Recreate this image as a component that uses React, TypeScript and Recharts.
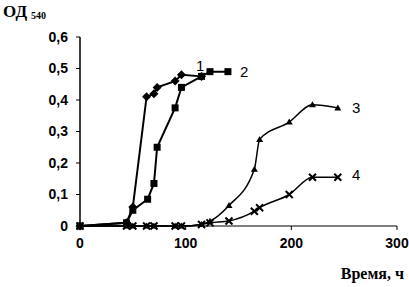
import { Line, LineChart, XAxis, YAxis } from "recharts"

// hours (x) and optical density (y) for each curve
const hours1 = [0, 44, 50, 63, 70, 73, 90, 96, 115]
const od1 = [0, 0.01, 0.06, 0.41, 0.42, 0.44, 0.46, 0.48, 0.475]

const hours2 = [0, 44, 50, 64, 70, 73, 90, 96, 115, 123, 140]
const od2 = [0, 0.01, 0.05, 0.085, 0.135, 0.25, 0.375, 0.44, 0.475, 0.49, 0.49]

const hours34 = [0, 44, 50, 63, 70, 90, 96, 115, 123, 141, 165, 170, 198, 220, 244]
const od3 = [0, 0, 0, 0, 0, 0, 0, 0.005, 0.015, 0.065, 0.18, 0.275, 0.33, 0.385, 0.375]
const od4 = [0, 0, 0, 0, 0, 0, 0, 0.005, 0.01, 0.016, 0.047, 0.058, 0.1, 0.155, 0.155]

const xTicks = [0, 100, 200, 300]
const yTicks = [0, 0.1, 0.2, 0.3, 0.4, 0.5, 0.6]

const toPoints = (xs: number[], ys: number[]) => xs.map((x, i) => ({ x, y: ys[i] }))

const series1 = toPoints(hours1, od1)
const series2 = toPoints(hours2, od2)
const series3 = toPoints(hours34, od3)
const series4 = toPoints(hours34, od4)

const tickFont = { fill: "#000", fontSize: 14, fontWeight: 700, fontFamily: "Liberation Sans, Arial, sans-serif" }

const Diamond = (props: any) => {
  const { cx, cy, index } = props
  const s = 4.5
  return <polygon key={index} points={`${cx},${cy - s} ${cx + s},${cy} ${cx},${cy + s} ${cx - s},${cy}`} fill="#000" />
}

const Square = (props: any) => {
  const { cx, cy, index } = props
  return <rect key={index} x={cx - 3.5} y={cy - 3.5} width={7} height={7} fill="#000" />
}

const Triangle = (props: any) => {
  const { cx, cy, index } = props
  return <polygon key={index} points={`${cx},${cy - 3.5} ${cx + 3.5},${cy + 2.5} ${cx - 3.5},${cy + 2.5}`} fill="#000" />
}

const Cross = (props: any) => {
  const { cx, cy, index } = props
  const s = 3.5
  return (
    <g key={index} stroke="#000" strokeWidth={2}>
      <line x1={cx - s} y1={cy - s} x2={cx + s} y2={cy + s} />
      <line x1={cx - s} y1={cy + s} x2={cx + s} y2={cy - s} />
    </g>
  )
}

export default function App() {
  return (
    <div style={{ position: "absolute", left: 0, top: 0, width: 409, height: 287, background: "#fff" }}>
      <LineChart width={409} height={287} margin={{ top: 37, right: 12, bottom: 31, left: 30 }}>
        <XAxis
          type="number"
          dataKey="x"
          domain={[0, 300]}
          ticks={xTicks}
          height={30}
          tick={tickFont}
          tickSize={4}
          tickMargin={8}
          axisLine={{ stroke: "#000", strokeWidth: 1 }}
          tickLine={{ stroke: "#000" }}
        />
        <YAxis
          type="number"
          dataKey="y"
          domain={[0, 0.6]}
          ticks={yTicks}
          width={50}
          tick={tickFont}
          tickSize={4}
          tickMargin={8}
          tickFormatter={(v: number) => (v === 0 ? "0" : v.toFixed(1).replace(".", ","))}
          axisLine={{ stroke: "#000", strokeWidth: 1.5 }}
          tickLine={{ stroke: "#000" }}
        />
        <Line data={series4} dataKey="y" type="monotone" stroke="#000" strokeWidth={1.5} dot={Cross} isAnimationActive={false} />
        <Line data={series3} dataKey="y" type="monotone" stroke="#000" strokeWidth={1.5} dot={Triangle} isAnimationActive={false} />
        <Line data={series2} dataKey="y" type="linear" stroke="#000" strokeWidth={2} dot={Square} isAnimationActive={false} />
        <Line data={series1} dataKey="y" type="linear" stroke="#000" strokeWidth={2} dot={Diamond} isAnimationActive={false} />
        <text x={3} y={17} fontFamily="Liberation Serif, Times New Roman, serif" fontWeight={700} fontSize={17} fill="#000">
          ОД
          <tspan dx={4} dy={2} fontSize={10}>540</tspan>
        </text>
        <text x={404} y={279} textAnchor="end" fontFamily="Liberation Serif, Times New Roman, serif" fontWeight={700} fontSize={16} fill="#000">
          Время, ч
        </text>
        <g fontFamily="Liberation Sans, Arial, sans-serif" fontSize={15} fill="#000">
          <text x={196} y={71}>1</text>
          <text x={240} y={77}>2</text>
          <text x={352} y={113}>3</text>
          <text x={352} y={180}>4</text>
        </g>
      </LineChart>
    </div>
  )
}
